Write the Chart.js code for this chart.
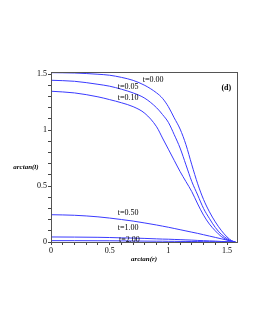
<!DOCTYPE html>
<html><head><meta charset="utf-8">
<script src="https://cdn.jsdelivr.net/npm/chart.js@4"></script>
<style>html,body{margin:0;padding:0;background:#fff}#w{width:255px;height:330px}</style>
</head><body><div id="w"><canvas id="c"></canvas></div>
<script>
const xs =   [0, 0.2, 0.4, 0.5, 0.6, 0.7, 0.8, 0.9, 0.95, 1.0, 1.05, 1.1, 1.15, 1.2, 1.25, 1.3, 1.35, 1.4, 1.45, 1.5, 1.54, 1.571];
const t000 = [1.514,1.511,1.50,1.491,1.472,1.445,1.40,1.333,1.285,1.21,1.11,1.01,0.87,0.69,0.52,0.38,0.27,0.18,0.105,0.045,0.012,0];
const t005 = [1.446,1.437,1.41,1.393,1.366,1.333,1.285,1.20,1.14,1.07,0.96,0.84,0.69,0.54,0.42,0.30,0.21,0.13,0.07,0.03,0.008,0];
const t010 = [1.348,1.333,1.298,1.273,1.245,1.21,1.15,1.03,0.93,0.83,0.73,0.63,0.54,0.45,0.34,0.24,0.16,0.10,0.05,0.02,0.005,0];
const t050 = [0.244,0.239,0.225,0.214,0.201,0.187,0.17,0.152,0.142,0.132,0.121,0.11,0.099,0.088,0.077,0.065,0.053,0.041,0.029,0.017,0.007,0];
const t100 = [0.045,0.044,0.042,0.040,0.037,0.035,0.032,0.028,0.026,0.025,0.023,0.021,0.019,0.017,0.014,0.012,0.010,0.008,0.005,0.003,0.001,0];
const t200 = [0.012,0.012,0.011,0.011,0.010,0.009,0.008,0.007,0.007,0.006,0.006,0.005,0.005,0.004,0.004,0.003,0.003,0.002,0.001,0.001,0,0];
const seriesNames = ['t=0.00','t=0.05','t=0.10','t=0.50','t=1.00','t=2.00'];
const seriesValues = [t000,t005,t010,t050,t100,t200];
// curve labels: [text, x, y] in data units
const curveLabels = [['t=0.00',0.871,1.449],['t=0.05',0.658,1.391],['t=0.10',0.658,1.288],['t=0.50',0.658,0.262],['t=1.00',0.658,0.128],['t=2.00',0.668,0.02]];
const panelLabel = ['(d)',1.494,1.377];
const xTitle = 'arctan(r)';
const yTitle = 'arctan(l)';

const lineColor = '#3a3aff';
const datasets = seriesValues.map((arr,k)=>({
  label: seriesNames[k],
  data: xs.map((x,i)=>({x:x,y:arr[i]})),
  borderColor: lineColor, borderWidth: 1, pointRadius: 0,
  cubicInterpolationMode: 'monotone', fill:false
}));

function majorLabel(v){
  const r = Math.round(v*2);
  if (Math.abs(v*2 - r) < 1e-6) { return String(r/2); }
  return '';
}

const deco = {
  id:'deco',
  afterDraw(chart){
    const {ctx, chartArea:a, scales:{x,y}} = chart;
    ctx.save();
    ctx.strokeStyle = '#555'; ctx.lineWidth = 1;
    ctx.strokeRect(Math.round(a.left)+0.5, Math.round(a.top)+0.5, Math.round(a.right-a.left), Math.round(a.bottom-a.top));
    ctx.fillStyle = '#000';
    ctx.font = '8px "Liberation Serif"';
    ctx.textAlign = 'center'; ctx.textBaseline = 'middle';
    curveLabels.forEach(l=>{ ctx.fillText(l[0], x.getPixelForValue(l[1]), y.getPixelForValue(l[2])); });
    ctx.font = 'bold 8px "Liberation Serif"';
    ctx.fillText(panelLabel[0], x.getPixelForValue(panelLabel[1]), y.getPixelForValue(panelLabel[2]));
    ctx.font = 'italic bold 7px "Liberation Serif"';
    ctx.fillText(xTitle, (a.left+a.right)/2, a.bottom+17);
    ctx.fillText(yTitle, 26, (a.top+a.bottom)/2 + 10);
    ctx.restore();
  }
};

new Chart(document.getElementById('c'), {
  type:'line',
  data:{datasets},
  options:{
    responsive:true, maintainAspectRatio:false, animation:false,
    layout:{padding:{top:72,right:18,bottom:68,left:0}},
    plugins:{legend:{display:false}, tooltip:{enabled:false}},
    scales:{
      x:{type:'linear', min:0, max:1.585,
        ticks:{stepSize:0.1, includeBounds:false, autoSkip:false, maxRotation:0, padding:1,
          color:'#000', font:{family:'Liberation Serif', size:8}, callback:v=>majorLabel(v)},
        grid:{drawOnChartArea:false, tickLength:3, tickColor:'#444'},
        border:{color:'#333'},
        afterFit:s=>{s.height=20;}
      },
      y:{type:'linear', min:0, max:1.52,
        ticks:{stepSize:0.1, includeBounds:false, autoSkip:false, padding:1,
          color:'#000', font:{family:'Liberation Serif', size:8}, callback:v=>majorLabel(v)},
        grid:{drawOnChartArea:false, tickLength:3, tickColor:'#444'},
        border:{color:'#333'},
        afterFit:s=>{s.width=51;}
      }
    }
  },
  plugins:[deco]
});
</script>
</body></html>
